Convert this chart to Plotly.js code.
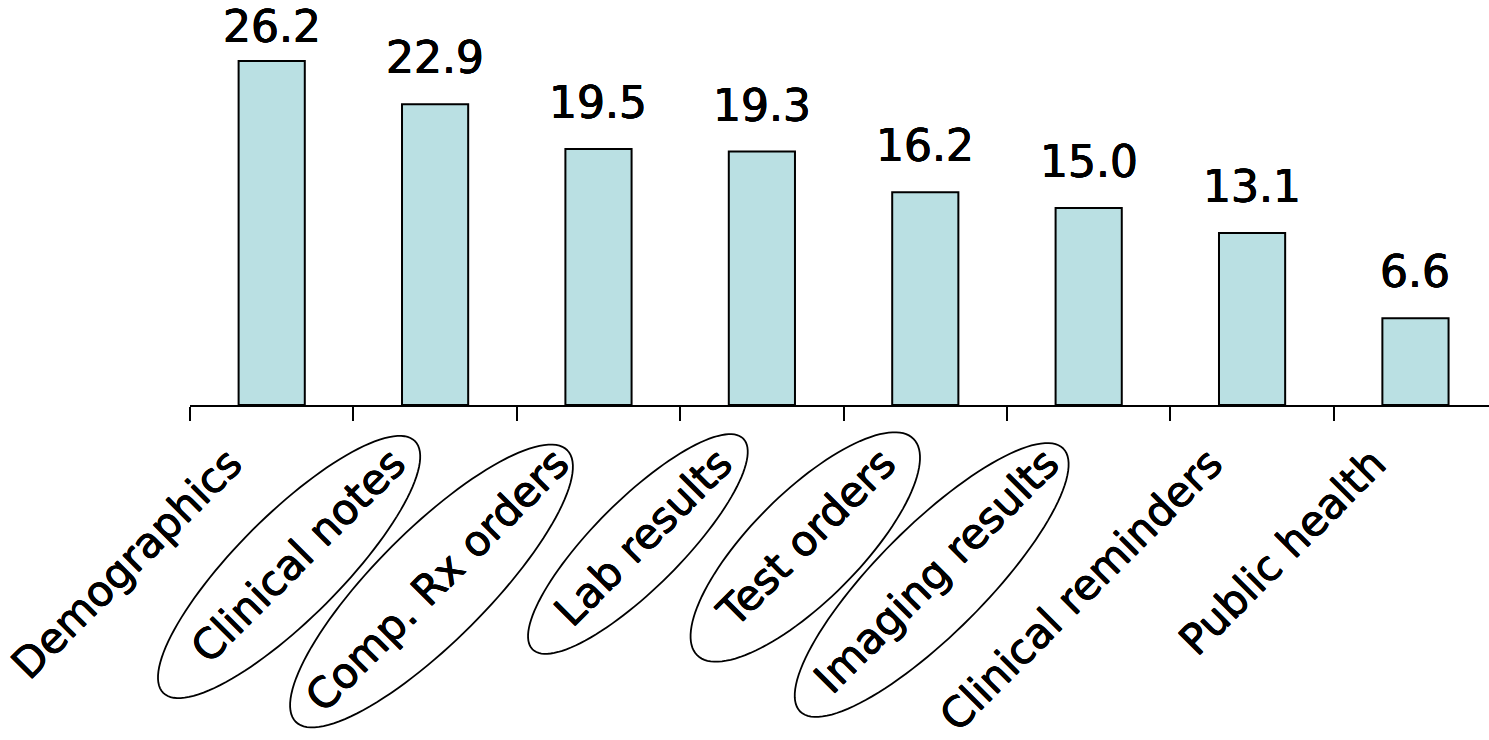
<!DOCTYPE html>
<html>
<head>
<meta charset="utf-8">
<script src="https://cdn.plot.ly/plotly-3.0.1.min.js"></script>
<style>
  html, body { margin: 0; padding: 0; background: #ffffff; overflow: hidden; }
  #chart { width: 1489px; height: 740px; }
</style>
</head>
<body>
<div id="chart"></div>
<script>
// Functionality categories and the share (%) reported for each
const categories = [
  'Demographics', 'Clinical notes', 'Comp. Rx orders', 'Lab results',
  'Test orders', 'Imaging results', 'Clinical reminders', 'Public health'
];
const values = [26.2, 22.9, 19.5, 19.3, 16.2, 15.0, 13.1, 6.6];
const valueLabels = values.map(v => v.toFixed(1));
// Categories whose axis label is ringed
const circledLabels = ['Clinical notes', 'Comp. Rx orders', 'Lab results', 'Test orders', 'Imaging results'];

// Page geometry
const W = 1489, H = 740;
const M = { l: 190, r: 0, t: 11, b: 335 };
const xRange = [-0.5, 7.45];
const yRange = [0, 30];
const plotW = W - M.l - M.r;
const plotH = H - M.t - M.b;
const axisY = M.t + plotH;
const pxPerCat = plotW / (xRange[1] - xRange[0]);
const pxPerUnit = plotH / (yRange[1] - yRange[0]);
const FONT = 'DejaVu Sans, Verdana, sans-serif';
const HEAVY = '0.4px 0 0 #000, -0.4px 0 0 #000, 0 0.4px 0 #000, 0 -0.4px 0 #000';

// Hand-drawn style rings around labels: offset of the ring centre from the
// category centre on the axis line, and the two semi-axes, in pixels.
const ringGeometry = {
  'Clinical notes':  { dx: -146, dy: 162, a: 178, b: 52 },
  'Comp. Rx orders': { dx: -167, dy: 181, a: 192, b: 56 },
  'Lab results':     { dx: -124, dy: 139, a: 149, b: 44 },
  'Test orders':     { dx: -120, dy: 142, a: 153, b: 54 },
  'Imaging results': { dx: -157, dy: 175, a: 186, b: 54 }
};

function ringPath(name) {
  const i = categories.indexOf(name);
  const g = ringGeometry[name];
  const cx = M.l + (i - xRange[0]) * pxPerCat + g.dx;
  const cy = axisY + g.dy;
  const c = Math.SQRT1_2;
  const n = 120;
  let d = '';
  for (let k = 0; k <= n; k++) {
    const t = 2 * Math.PI * k / n;
    const px = cx + g.a * Math.cos(t) * c + g.b * Math.sin(t) * c;
    const py = cy - g.a * Math.cos(t) * c + g.b * Math.sin(t) * c;
    const xp = (px - M.l) / plotW;
    const yp = (axisY - py) / plotH;
    d += (k === 0 ? 'M' : 'L') + xp.toFixed(5) + ',' + yp.toFixed(5);
  }
  return d + 'Z';
}

// Value labels sit a fixed gap above each bar, except where the top of the
// page would cut them off; there the gap shrinks.
const LABEL_GAP = 27;      // px between bar top and digit baseline
const LABEL_MIN_BASE = 46; // highest allowed digit baseline (px from top)
const DESCENT = 7;         // px between digit baseline and annotation box bottom
const valueAnnotations = values.map((v, i) => {
  const barTop = axisY - v * pxPerUnit;
  const gap = Math.min(LABEL_GAP, barTop - LABEL_MIN_BASE);
  return {
    x: categories[i],
    y: v,
    xref: 'x',
    yref: 'y',
    text: valueLabels[i],
    showarrow: false,
    xanchor: 'center',
    yanchor: 'bottom',
    yshift: gap - DESCENT,
    borderpad: 0,
    font: { family: FONT, size: 44, color: '#000000', shadow: HEAVY }
  };
});

const trace = {
  type: 'bar',
  x: categories,
  y: values,
  width: 0.405,
  marker: { color: '#bae0e3', line: { color: '#000000', width: 2 } },
  cliponaxis: false,
  hoverinfo: 'skip'
};

const layout = {
  width: W,
  height: H,
  margin: M,
  paper_bgcolor: '#ffffff',
  plot_bgcolor: '#ffffff',
  showlegend: false,
  xaxis: {
    type: 'category',
    range: xRange,
    showline: true,
    linecolor: '#000000',
    linewidth: 2,
    ticks: 'outside',
    tickson: 'boundaries',
    ticklen: 14,
    tickwidth: 2,
    tickcolor: '#000000',
    tickangle: -45,
    ticklabelshift: -42,
    ticklabelstandoff: 15,
    tickfont: { family: FONT, size: 42, color: '#000000', shadow: HEAVY },
    showgrid: false,
    zeroline: false,
    fixedrange: true
  },
  yaxis: {
    range: yRange,
    visible: false,
    showgrid: false,
    zeroline: false,
    fixedrange: true
  },
  annotations: valueAnnotations,
  shapes: circledLabels.map(name => ({
    type: 'path',
    xref: 'paper',
    yref: 'paper',
    path: ringPath(name),
    line: { color: '#000000', width: 1.8 },
    fillcolor: 'rgba(0,0,0,0)',
    layer: 'above'
  }))
};

Plotly.newPlot('chart', [trace], layout, { staticPlot: true, displayModeBar: false });
</script>
</body>
</html>
